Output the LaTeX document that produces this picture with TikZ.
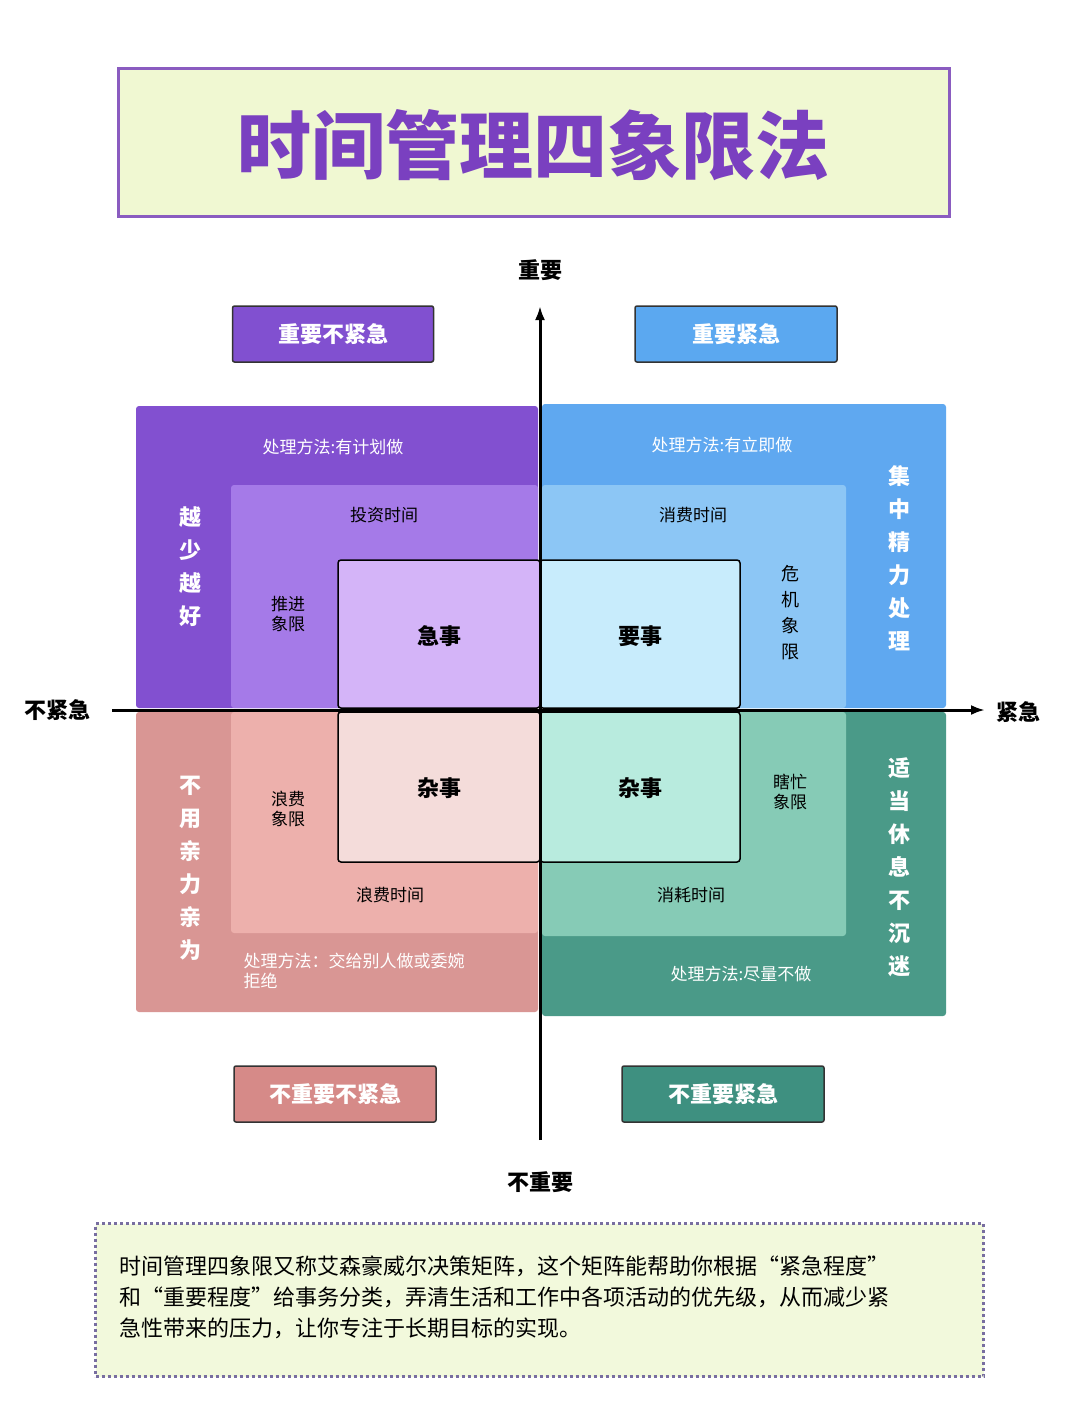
\documentclass[tikz,border=0pt]{standalone}
\usepackage{fontspec}
\usetikzlibrary{arrows.meta}
\setmainfont{Noto Sans CJK SC}
\begin{document}
\begin{tikzpicture}[x=1pt,y=-1pt,
  lab/.style={font=\fontsize{17}{20}\selectfont,text=#1},
  big/.style={font=\bfseries\fontsize{22}{24}\selectfont},
  vert/.style={font=\bfseries\fontsize{22}{33}\selectfont,text=white,align=center},
  tag/.style={draw=black!80,line width=1.5pt,rounded corners=2pt,text=white,font=\bfseries\fontsize{22}{24}\selectfont},
  core/.style={draw=black,line width=1.5pt,rounded corners=3pt},
  axl/.style={font=\bfseries\fontsize{22}{24}\selectfont}]
\useasboundingbox (0,0) rectangle (1066,1421);
\fill[white] (0,0) rectangle (1066,1421);
% title
\node[draw={rgb,255:red,138;green,92;blue,192},line width=3pt,fill={rgb,255:red,240;green,248;blue,210},minimum width=831,minimum height=148,anchor=north west,inner sep=0] (title) at (117,67) {};
\node[text={rgb,255:red,122;green,64;blue,192},font=\bfseries\fontsize{74}{80}\selectfont] (tt) at (533,145) {时间管理四象限法};
% quadrants
\definecolor{tlo}{RGB}{130,80,208}\definecolor{tli}{RGB}{165,122,232}\definecolor{tlc}{RGB}{212,180,248}
\definecolor{tro}{RGB}{95,168,240}\definecolor{tri}{RGB}{140,198,245}\definecolor{trc}{RGB}{200,236,252}
\definecolor{blo}{RGB}{217,150,148}\definecolor{bli}{RGB}{237,176,172}\definecolor{blc}{RGB}{244,220,218}
\definecolor{bro}{RGB}{74,154,136}\definecolor{bri}{RGB}{134,203,182}\definecolor{brc}{RGB}{184,235,222}
\fill[tlo,rounded corners=3pt] (136,406) rectangle (538,708);
\fill[tli,rounded corners=3pt] (231,485) rectangle (538,708);
\fill[tro,rounded corners=3pt] (542,404) rectangle (946,708);
\fill[tri,rounded corners=3pt] (542,485) rectangle (846,708);
\fill[blo,rounded corners=3pt] (136,712) rectangle (538,1012);
\fill[bli,rounded corners=3pt] (231,712) rectangle (538,933);
\fill[bro,rounded corners=3pt] (542,712) rectangle (946,1016);
\fill[bri,rounded corners=3pt] (542,712) rectangle (846,936);
\draw[core,fill=tlc] (338,560) rectangle (540,708);
\draw[core,fill=trc] (540,560) rectangle (740,708);
\draw[core,fill=blc] (338,712) rectangle (540,862);
\draw[core,fill=brc] (540,712) rectangle (740,862);
\node[big] (q1) at (439,636) {急事};
\node[big] (q2) at (640,636) {要事};
\node[big] (q3) at (439,788) {杂事};
\node[big] (q4) at (640,788) {杂事};
\node[lab=white] (m1) at (333,447) {处理方法:有计划做};
\node[lab=white] (m2) at (722,445) {处理方法:有立即做};
\node[lab=white,align=left,anchor=north west] (m3) at (240,950) {处理方法：交给别人做或委婉\\拒绝};
\node[lab=white] (m4) at (741,974) {处理方法:尽量不做};
\node[lab=black] (t1) at (384,515) {投资时间};
\node[lab=black] (t2) at (693,515) {消费时间};
\node[lab=black] (t3) at (390,895) {浪费时间};
\node[lab=black] (t4) at (691,895) {消耗时间};
\node[lab=black,align=center] (s1) at (288,614) {推进\\象限};
\node[lab=black,align=center] (s3) at (288,809) {浪费\\象限};
\node[lab=black,align=center] (s4) at (790,792) {瞎忙\\象限};
\node[font=\fontsize{18}{26}\selectfont,align=center] (s2) at (790,613) {危\\机\\象\\限};
\node[vert] (v1) at (190,567) {越\\少\\越\\好};
\node[vert] (v2) at (899,558) {集\\中\\精\\力\\处\\理};
\node[vert] (v3) at (190,868) {不\\用\\亲\\力\\亲\\为};
\node[vert] (v4) at (899,867) {适\\当\\休\\息\\不\\沉\\迷};
% axes
\coordinate (ab) at (540,1140);\coordinate (at) at (540,306);
\coordinate (al) at (112,710);\coordinate (ar) at (985,710);
\draw[line width=3pt,-{Latex[length=14pt,width=10pt]}] (ab) -- (at);
\draw[line width=3pt,-{Latex[length=14pt,width=10pt]}] (al) -- (ar);
\node[axl] (ximp) at (540,270) {重要};
\node[axl] (xnimp) at (540,1182) {不重要};
\node[axl] (xnu) at (57,710) {不紧急};
\node[axl] (xu) at (1018,712) {紧急};
% tags
\node[tag,fill={rgb,255:red,129;green,80;blue,208},minimum width=201,minimum height=56] (g1) at (333,334) {重要不紧急};
\node[tag,fill={rgb,255:red,91;green,168;blue,240},minimum width=202,minimum height=56] (g2) at (736,334) {重要紧急};
\node[tag,fill={rgb,255:red,214;green,138;blue,136},minimum width=202,minimum height=56] (g3) at (335,1094) {不重要不紧急};
\node[tag,fill={rgb,255:red,62;green,144;blue,128},minimum width=202,minimum height=56] (g4) at (723,1094) {不重要紧急};
% note
\node[draw={rgb,255:red,120;green,110;blue,160},line width=3pt,dash pattern=on 3pt off 3pt,fill={rgb,255:red,242;green,249;blue,220},minimum width=888,minimum height=153,anchor=north west,inner sep=0] (note) at (94,1222) {};
\node[anchor=north west,align=left,font=\fontsize{22}{31}\selectfont] (nt) at (116,1252) {时间管理四象限又称艾森豪威尔决策矩阵，这个矩阵能帮助你根据“紧急程度”\\和“重要程度”给事务分类，弄清生活和工作中各项活动的优先级，从而减少紧\\急性带来的压力，让你专注于长期目标的实现。};
\end{tikzpicture}
\end{document}
